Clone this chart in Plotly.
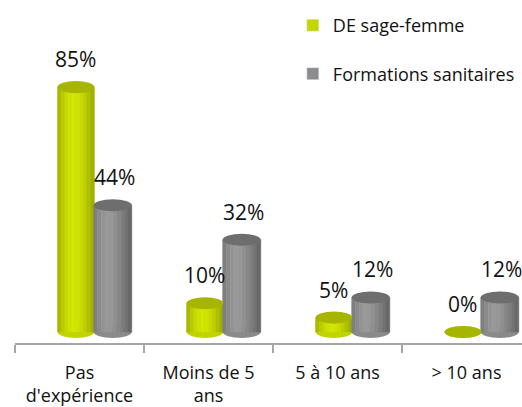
import plotly.graph_objects as go

# ---- data ----
categories = ["Pas<br>d'expérience", "Moins de 5<br>ans", "5 à 10 ans", "> 10 ans"]
de_sage_femme = [85, 10, 5, 0]
formations_sanitaires = [44, 32, 12, 12]
series_names = ["DE sage-femme", "Formations sanitaires"]

# ---- style ----
FONT = "Open Sans"
green_stripes = ["#a9b900", "#b8ca00", "#c6d900", "#cee200", "#d2e600",
                 "#cfe300", "#c7da00", "#bccd00", "#afc000", "#a0b000"]
gray_stripes = ["#7f7f7f", "#8b8b8b", "#939393", "#989898", "#979797",
                "#919191", "#888888", "#7e7e7e", "#737373", "#686868"]
green_top, gray_top = "#a6b600", "#6e6e6e"
green_mid, gray_mid = "#c2d400", "#8a8a8a"
legend_colors = ["#c3d600", "#8c8c8c"]

series = [
    dict(vals=de_sage_femme, name=series_names[0], off=-0.17, w=0.285,
         stripes=green_stripes, top=green_top, mid=green_mid, lc=legend_colors[0], xs=0),
    dict(vals=formations_sanitaires, name=series_names[1], off=0.11, w=0.295,
         stripes=gray_stripes, top=gray_top, mid=gray_mid, lc=legend_colors[1], xs=2),
]

fig = go.Figure()
shapes = []
annotations = []
ell_h = 4.2  # ellipse height in data units (3D look)

for si, s in enumerate(series):
    n = len(s["stripes"])
    sw = s["w"] / n
    for k, col in enumerate(s["stripes"]):
        fig.add_trace(go.Bar(
            x=categories, y=s["vals"], width=[sw] * len(categories),
            offset=s["off"] + k * sw,
            marker=dict(color=col, line=dict(color=col, width=0.6)),
            name=s["name"], legendgroup=s["name"], showlegend=False,
            hoverinfo="skip",
        ))
    # legend-only trace
    fig.add_trace(go.Bar(x=[categories[0]], y=[None], name=s["name"],
                         legendgroup=s["name"], marker_color=s["lc"], showlegend=True))
    for i, v in enumerate(s["vals"]):
        x0 = i + s["off"]
        x1 = x0 + s["w"]
        # bottom rounding
        shapes.append(dict(type="circle", xref="x", yref="y", x0=x0, x1=x1,
                           y0=-ell_h / 2, y1=ell_h / 2, fillcolor=s["mid"],
                           line=dict(width=0), layer="below"))
        # top cap
        shapes.append(dict(type="circle", xref="x", yref="y", x0=x0, x1=x1,
                           y0=v - ell_h / 2, y1=v + ell_h / 2, fillcolor=s["top"],
                           line=dict(width=0), layer="above"))
        annotations.append(dict(x=(x0 + x1) / 2, y=v, xref="x", yref="y",
                                text=f"{v}%", showarrow=False, yshift=28, xshift=s["xs"],
                                font=dict(family=FONT, size=21, color="#111111")))

fig.update_layout(
    width=522, height=407,
    margin=dict(l=15, r=0, t=20, b=64),
    paper_bgcolor="white", plot_bgcolor="white",
    barmode="overlay",
    shapes=shapes, annotations=annotations,
    font=dict(family=FONT, size=18, color="#111111"),
    legend=dict(x=0.548, y=1.04, xanchor="left", yanchor="top",
                font=dict(family=FONT, size=18), tracegroupgap=22,
                bgcolor="rgba(0,0,0,0)"),
    xaxis=dict(type="category", range=[-0.5, 3.43], showline=True, automargin=False,
               linecolor="#a6a6a6", linewidth=2, ticks="outside",
               tickson="boundaries", ticklen=8, tickwidth=2, tickcolor="#a6a6a6",
               ticklabelstandoff=12,
               showgrid=False, tickfont=dict(family=FONT, size=18, color="#111111")),
    yaxis=dict(range=[-3.82, 108.3], visible=False, showgrid=False, zeroline=False,
               automargin=False),
)

fig.write_html("out.html", config={"displayModeBar": False},
               post_script="document.body.style.margin='0';document.body.style.overflow='hidden';")
